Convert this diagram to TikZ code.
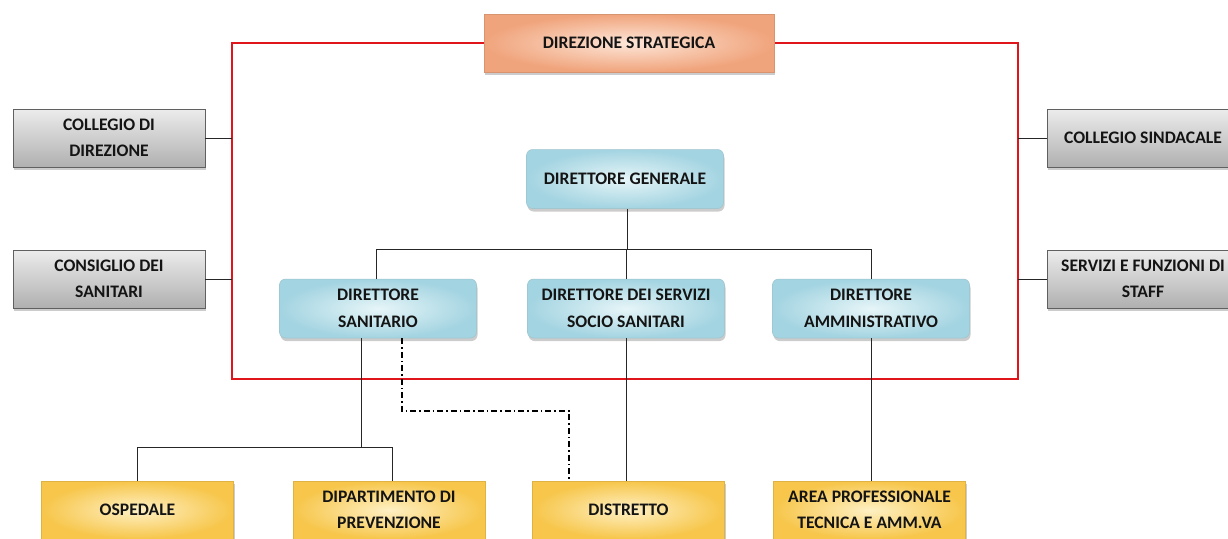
\documentclass[tikz,border=0pt]{standalone}
\usepackage{fontspec}
\setmainfont{Carlito}
\usetikzlibrary{shadows}
\definecolor{orEdge}{HTML}{F0A47C}
\definecolor{orIn}{HTML}{FDE6D8}
\definecolor{blEdge}{HTML}{A3D4E1}
\definecolor{blIn}{HTML}{E6F5F8}
\definecolor{yeEdge}{HTML}{F7C64A}
\definecolor{yeIn}{HTML}{FEF0C4}
\definecolor{redline}{HTML}{E0151B}
\begin{document}
\begin{tikzpicture}[x=1pt,y=-1pt,
  lab/.style={font=\bfseries\fontsize{17.6}{26.5}\selectfont, align=center, text=black!92, inner sep=0pt, minimum width=192pt, minimum height=58pt},
  shad/.style={drop shadow={shadow xshift=1pt,shadow yshift=-3pt,opacity=0.4,fill=gray}},
  graybox/.style={lab, shad, draw=gray!75!black, line width=0.6pt, top color=gray!15, bottom color=gray!62},
  bluebox/.style={lab, shad, rounded corners=6pt, minimum width=197pt, minimum height=59pt, draw=blEdge!80!gray, line width=0.5pt, inner color=blIn, outer color=blEdge},
  orbox/.style={lab, shad, minimum width=290pt, draw=orEdge!90!black, line width=0.5pt, inner color=orIn, outer color=orEdge},
  yebox/.style={lab, shad, draw=yeEdge!90!black, line width=0.5pt, inner color=yeIn, outer color=yeEdge},
  conn/.style={draw=black!85, line width=0.8pt},
  dashdotline/.style={draw=black, line width=1.1pt, dash pattern=on 6pt off 3pt on 1.5pt off 3pt}
]
\clip (0,0) rectangle (1228,538);
\useasboundingbox (0,0) rectangle (1228,538);

% red frame
\coordinate (rtl) at (232,43);
\coordinate (rtr) at (1018,43);
\coordinate (rbr) at (1018,379);
\coordinate (rbl) at (232,379);
\draw[redline, line width=2pt] (rtl) -- (rtr) -- (rbr) -- (rbl) -- cycle;

% helper coordinates
\coordinate (bar) at (627,249);
\coordinate (bar2) at (361,447);
\coordinate (dd) at (402,411);

% nodes
\node[orbox] (ds) at (629,43) {DIREZIONE STRATEGICA};
\node[graybox] (cdir) at (109,138) {COLLEGIO DI\\DIREZIONE};
\node[graybox] (cons) at (109,279) {CONSIGLIO DEI\\SANITARI};
\node[graybox] (csin) at (1143,138) {COLLEGIO SINDACALE};
\node[graybox] (serv) at (1143,279) {SERVIZI E FUNZIONI DI\\STAFF};

\node[bluebox] (dg) at (625,179) {DIRETTORE GENERALE};
\node[bluebox] (dsan) at (378,308.5) {DIRETTORE\\SANITARIO};
\node[bluebox] (dsoc) at (626,308.5) {DIRETTORE DEI SERVIZI\\SOCIO SANITARI};
\node[bluebox] (damm) at (871,308.5) {DIRETTORE\\AMMINISTRATIVO};

\node[yebox] (osp) at (137.5,510) {OSPEDALE};
\node[yebox] (dip) at (389,510) {DIPARTIMENTO DI\\PREVENZIONE};
\node[yebox] (dis) at (628.5,510) {DISTRETTO};
\node[yebox] (area) at (869.5,510) {AREA PROFESSIONALE\\TECNICA E AMM.VA};

% connectors to frame
\draw[conn] (cdir.east) -- (cdir.east -| rtl);
\draw[conn] (cons.east) -- (cons.east -| rtl);
\draw[conn] (csin.west) -- (csin.west -| rtr);
\draw[conn] (serv.west) -- (serv.west -| rtr);

% tree
\draw[conn] (dg.south -| bar) -- (bar);
\draw[conn] (dsan.north -| 376,0) -- (376,249) -- (871,249) -- (damm.north);
\draw[conn] (dsoc.north) -- (dsoc.north |- bar);

\draw[conn] (bar2 |- dsan.south) -- (bar2);
\draw[conn] (osp.north) -- (osp.north |- bar2) -- (392,447) -- (392,481);
\draw[conn] (dsoc.south) -- (dsoc.south |- dis.north);
\draw[conn] (damm.south) -- (damm.south |- area.north);

\draw[dashdotline] (dd |- dsan.south) -- (dd) -- (569,411) -- (569,481);
\end{tikzpicture}
\end{document}
